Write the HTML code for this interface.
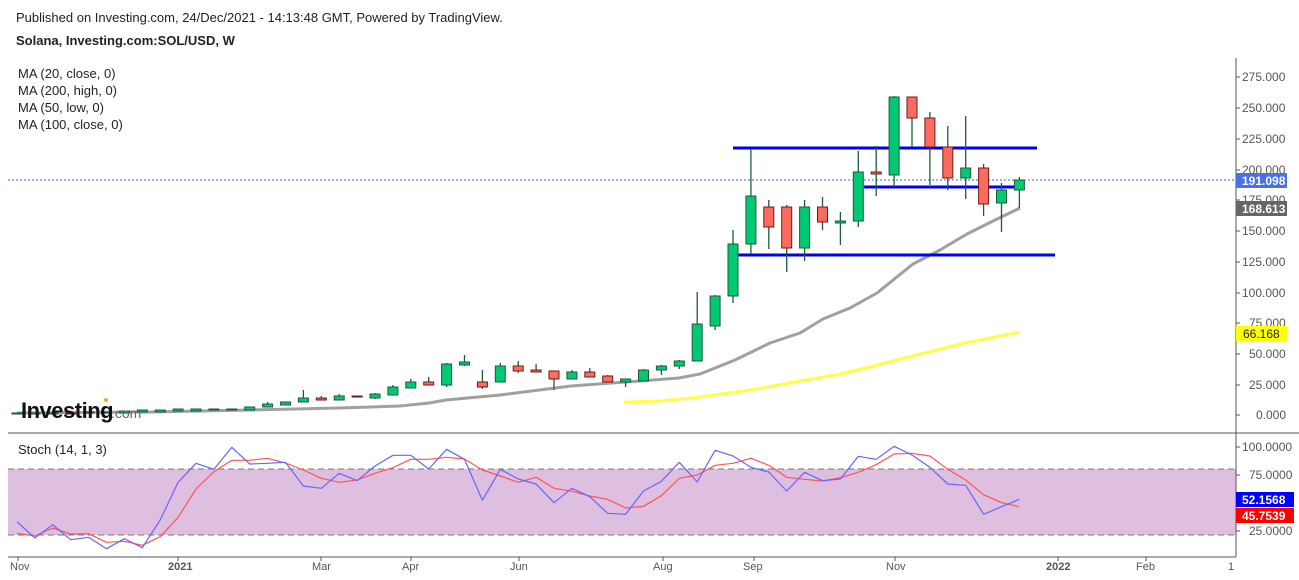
<!DOCTYPE html>
<html><head><meta charset="utf-8"><style>
body{margin:0;background:#fff;width:1299px;height:580px;overflow:hidden;font-family:"Liberation Sans",Arial,sans-serif}
svg{position:absolute;left:0;top:0}
</style></head><body>
<svg id="s" width="1299" height="580" xmlns="http://www.w3.org/2000/svg" font-family="Liberation Sans, Arial, sans-serif">
<text x="16" y="22" font-size="13" fill="#222">Published on Investing.com, 24/Dec/2021 - 14:13:48 GMT, Powered by TradingView.</text>
<text x="16" y="45" font-size="13" font-weight="bold" fill="#222">Solana, Investing.com:SOL/USD, W</text>
<g font-size="13" fill="#222">
<text x="18" y="78">MA (20, close, 0)</text>
<text x="18" y="95">MA (200, high, 0)</text>
<text x="18" y="112">MA (50, low, 0)</text>
<text x="18" y="129">MA (100, close, 0)</text>
</g>
<rect x="8" y="469" width="1228" height="66" fill="#dfbfdf"/>
<line x1="8" y1="469" x2="1236" y2="469" stroke="#777" stroke-dasharray="6,4"/>
<line x1="8" y1="535" x2="1236" y2="535" stroke="#777" stroke-dasharray="6,4"/>
<line x1="8" y1="180" x2="1236" y2="180" stroke="#3a66f0" stroke-dasharray="2,2"/>
<g id="main"></g>
<g font-size="12" fill="#555">
<text x="1242" y="81">275.000</text><text x="1242" y="112">250.000</text><text x="1242" y="143">225.000</text><text x="1242" y="174">200.000</text><text x="1242" y="204">175.000</text><text x="1242" y="235">150.000</text><text x="1242" y="266">125.000</text><text x="1242" y="297">100.000</text><text x="1249" y="327">75.000</text><text x="1249" y="358">50.000</text><text x="1249" y="389">25.000</text><text x="1256" y="419">0.000</text>
<text x="1242" y="451">100.0000</text><text x="1249" y="479">75.0000</text><text x="1249" y="535">25.0000</text>
</g>
<g stroke="#555">
<line x1="1236" y1="58" x2="1236" y2="557"/>
<line x1="8" y1="433" x2="1299" y2="433"/>
<line x1="8" y1="557" x2="1236" y2="557"/>
</g>
<g id="ticks" stroke="#555"></g>
<rect x="1236" y="173" width="51" height="15" fill="#4a6fe6"/><text x="1242" y="185" font-size="12" font-weight="bold" fill="#fff">191.098</text>
<rect x="1236" y="201" width="51" height="15" fill="#666"/><text x="1242" y="213" font-size="12" font-weight="bold" fill="#fff">168.613</text>
<rect x="1236" y="326" width="51" height="15" fill="#ffff00"/><text x="1243" y="338" font-size="12" fill="#222">66.168</text>
<rect x="1236" y="492" width="58" height="15" fill="#0000ff"/><text x="1242" y="504" font-size="12" font-weight="bold" fill="#fff">52.1568</text>
<rect x="1236" y="508" width="58" height="15" fill="#ff0000"/><text x="1242" y="520" font-size="12" font-weight="bold" fill="#fff">45.7539</text>
<text x="18" y="454" font-size="13" fill="#222">Stoch (14, 1, 3)</text>
<g font-size="11" fill="#555">
<text x="10" y="570">Nov</text><text x="168" y="570" font-weight="bold">2021</text><text x="312" y="570">Mar</text><text x="402" y="570">Apr</text><text x="510" y="570">Jun</text><text x="653" y="570">Aug</text><text x="743" y="570">Sep</text><text x="886" y="570">Nov</text><text x="1046" y="570" font-weight="bold">2022</text><text x="1136" y="570">Feb</text><text x="1228" y="570">1</text>
</g>
<text x="21" y="418" font-size="22" font-weight="bold" fill="#111" letter-spacing="-0.5">Investing</text>
<text x="111" y="418" font-size="14" fill="#666">.com</text>
<circle cx="106" cy="400" r="2" fill="#f5a623"/>
</svg>
<script>
var NS="http://www.w3.org/2000/svg",g=document.getElementById('main');
function el(t,a){var e=document.createElementNS(NS,t);for(var k in a)e.setAttribute(k,a[k]);g.appendChild(e);return e;}
function X(k){return 17+17.9*k;}
function poly(pts,col,w){el('polyline',{points:pts.map(function(p){return p.join(',')}).join(' '),fill:'none',stroke:col,'stroke-width':w,'stroke-linejoin':'round'});}
var b=[275,324,284,329,322,356,326,353,270,157,100,118,52,102,100,97,168,175,130,152,108,76,76,117,58,88,211,118,147,162,218,175,200,250,253,183,154,97,156,61,78,112,126,183,127,152,147,79,88,49,75,112,162,166,253,230,208];
var r=[310,318,294,312,311,337,334,346,320,262,177,125,91,91,85,99,120,145,157,150,130,113,88,88,82,87,120,138,157,142,175,184,198,208,234,229,197,145,135,106,100,85,106,142,148,153,143,127,104,72,70,78,118,150,194,218,230];
poly(r.map(function(v,i){return [X(i).toFixed(1),(430+v/3).toFixed(1)]}),'#ff5555',1.2);
poly(b.map(function(v,i){return [X(i).toFixed(1),(430+v/3).toFixed(1)]}),'#6666ff',1.2);
poly([[17,413],[150,412],[250,410],[340,408],[400,406],[429,403],[446,400],[500,395],[571,386],[640,381],[679,378],[700,374],[735,360],[770,343],[800,333],[823,319],[850,308],[877,293],[913,264],[940,250],[967,234],[995,220],[1020,208]],'#a0a0a0',3);
poly([[624,402],[660,401],[700,397],[750,390],[800,381],[840,374],[870,367],[900,359],[920,354],[960,344],[1020,332]],'#ffff44',3);
el('line',{x1:733,y1:148,x2:1037,y2:148,stroke:'#0000ee','stroke-width':3});
el('line',{x1:864,y1:187,x2:1014,y2:187,stroke:'#0000ee','stroke-width':3});
el('line',{x1:738,y1:255,x2:1055,y2:255,stroke:'#0000ee','stroke-width':3});
var c=[[413,414,,,'g'],[413,414,,,'g'],[413,414,,,'g'],[413,414,,,'r'],[412,413,,,'g'],[412,413,,,'g'],[411,413,,,'g'],[410,412,,,'g'],[410,412,,,'g'],[409,411,,,'g'],[409,411,,,'g'],[409,410,,,'g'],[409,410,,,'g'],[407,410,,,'g'],[404,407,402,,'g'],[402,405,,,'g'],[398,402,390,,'g'],[398,400,396,400,'r'],[396,400,394,,'g'],[396,397,,,'r'],[394,398,393,399,'g'],[387,395,385,,'g'],[382,388,379,,'g'],[382,385,377,,'r'],[364,385,363,387,'g'],[362,365,355,366,'g'],[382,387,370,389,'r'],[366,382,363,,'g'],[366,371,361,373,'r'],[370,372,364,,'r'],[371,379,,390,'r'],[372,379,370,,'g'],[372,377,368,,'r'],[376,382,375,,'r'],[379,382,,387,'g'],[370,381,369,,'g'],[366,370,365,375,'g'],[361,366,360,369,'g'],[324,361,292,,'g'],[296,326,295,330,'g'],[244,296,230,303,'g'],[196,244,149,254,'g'],[207,227,200,249,'r'],[207,248,205,272,'r'],[207,248,200,261,'g'],[207,222,197,230,'r'],[221,223,212,245,'g'],[172,221,151,227,'g'],[172,174,146,196,'r'],[97,175,96,187,'g'],[97,118,97,147,'r'],[118,147,112,185,'r'],[147,178,126,190,'r'],[168,178,116,199,'g'],[168,204,164,216,'r'],[190,203,183,232,'g'],[180,190,177,208,'g']];
c.forEach(function(d,i){var x=X(i),t=d[0],bt=d[1],h=d[2]||t,l=d[3]||bt,gr=d[4]=='g';
var sc=gr?'#1e5a3a':'#6b1a1a';
el('line',{x1:x,y1:h,x2:x,y2:l,stroke:'#1e5a3a','stroke-width':1.3});
el('rect',{x:x-5,y:t,width:10,height:Math.max(bt-t,1),fill:gr?'#00c972':'#ff6a5e',stroke:sc,'stroke-width':1});});
var tk=document.getElementById('ticks');
[77,108,139,170,200,231,262,293,323,354,385,415,447,475,531].forEach(function(y){var e=document.createElementNS(NS,'line');e.setAttribute('x1',1236);e.setAttribute('x2',1240);e.setAttribute('y1',y);e.setAttribute('y2',y);tk.appendChild(e);});
[18,178,321,411,519,663,754,895,1058,1146].forEach(function(x){var e=document.createElementNS(NS,'line');e.setAttribute('x1',x);e.setAttribute('x2',x);e.setAttribute('y1',557);e.setAttribute('y2',561);tk.appendChild(e);});
</script>
</body></html>
